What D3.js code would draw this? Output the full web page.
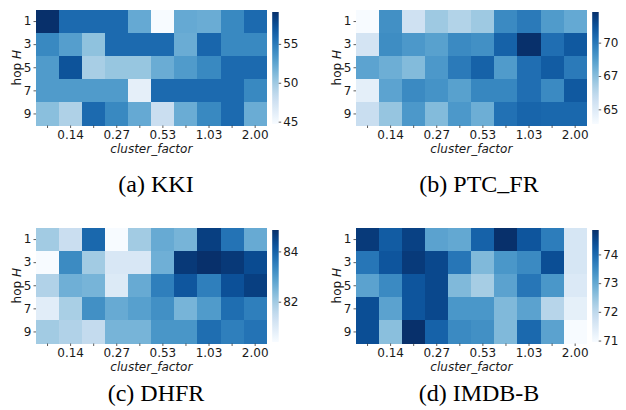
<!DOCTYPE html>
<html>
<head>
<meta charset="utf-8">
<script src="https://cdn.jsdelivr.net/npm/d3@7"></script>
<style>
  body { margin: 0; background: #fff; }
  svg { display: block; }
  .tick text { font-family: "DejaVu Sans", sans-serif; font-size: 12px; fill: #1a1a1a; }
  .tick line { stroke: #333; stroke-width: 0.8; }
</style>
</head>
<body>
<svg id="chart" width="626" height="410"></svg>
<script>
// rows = hop H, columns = cluster_factor
const hops = [1, 3, 5, 7, 9];
const factorLabels = ['', '0.14', '', '0.27', '', '0.53', '', '1.03', '', '2.00'];

const kki = [
  [59.1, 55.9, 55.9, 55.9, 52.2, 44.7, 52.2, 52.0, 54.2, 55.9],
  [54.2, 52.9, 50.6, 55.9, 55.9, 55.9, 52.0, 56.1, 54.2, 54.2],
  [53.1, 57.2, 49.6, 50.3, 50.3, 52.0, 53.1, 54.2, 55.9, 55.9],
  [53.1, 53.1, 53.1, 53.1, 46.0, 55.9, 55.9, 55.9, 55.9, 54.2],
  [50.8, 49.3, 55.9, 54.2, 52.2, 47.9, 52.0, 54.2, 55.9, 52.0]
];
const ptcFr = [
  [63.9, 69.2, 65.6, 67.0, 66.5, 67.0, 69.4, 69.9, 68.8, 68.3],
  [65.4, 69.3, 68.9, 68.6, 69.4, 69.2, 70.7, 72.3, 70.3, 71.0],
  [68.5, 68.1, 67.6, 68.9, 69.9, 70.7, 68.8, 70.3, 70.9, 69.9],
  [64.7, 68.5, 69.4, 69.1, 68.6, 69.5, 69.5, 70.3, 69.4, 71.0],
  [65.8, 67.2, 68.9, 67.6, 68.9, 68.1, 70.2, 70.6, 70.5, 70.5]
];
const dhfr = [
  [82.0, 81.4, 83.9, 80.4, 82.0, 82.7, 82.5, 84.6, 83.7, 82.7],
  [80.4, 83.3, 82.0, 81.1, 81.1, 82.6, 84.7, 84.85, 84.7, 84.4],
  [81.8, 82.6, 82.5, 81.0, 82.7, 83.5, 84.2, 83.5, 84.3, 84.6],
  [80.9, 81.9, 83.2, 82.7, 82.9, 83.2, 82.5, 83.0, 83.8, 83.5],
  [82.0, 81.8, 81.5, 82.5, 82.5, 83.1, 83.1, 83.8, 83.5, 83.7]
];
const imdbB = [
  [74.7, 74.2, 74.6, 73.1, 73.0, 74.1, 74.85, 74.3, 73.7, 71.6],
  [73.8, 74.3, 74.7, 74.5, 73.8, 72.7, 73.3, 73.5, 74.4, 71.6],
  [73.1, 73.5, 74.3, 74.5, 72.7, 72.3, 73.1, 73.8, 73.3, 71.5],
  [74.4, 73.1, 74.3, 74.5, 73.3, 73.3, 72.7, 73.1, 72.1, 71.3],
  [74.4, 72.6, 74.85, 74.1, 73.5, 73.4, 72.7, 74.0, 73.1, 70.95]
];

// colorbar ticks
const kkiTicks = [45, 50, 55];
const ptcFrTicks = [65, 67.5, 70];
const ptcFrTickLabels = ['65', '67', '70'];
const dhfrTicks = [82, 84];
const imdbBTicks = [71, 72, 73, 74];

const captions = ['(a) KKI', '(b) PTC_FR', '(c) DHFR', '(d) IMDB-B'];

const panels = [
  { data: kki, ticks: kkiTicks, labels: kkiTicks.map(String), left: 36, top: 10, capX: 156, capY: 192 },
  { data: ptcFr, ticks: ptcFrTicks, labels: ptcFrTickLabels, left: 356, top: 10, capX: 479, capY: 192 },
  { data: dhfr, ticks: dhfrTicks, labels: dhfrTicks.map(String), left: 36, top: 228, capX: 156, capY: 401 },
  { data: imdbB, ticks: imdbBTicks, labels: imdbBTicks.map(String), left: 356, top: 228, capX: 479, capY: 401 }
];

const hmWidth = 230.7;
const hmHeight = 115.5;

const svg = d3.select('#chart');
const defs = svg.append('defs');

// one shared vertical gradient for the colorbars
const grad = defs.append('linearGradient')
  .attr('id', 'blues')
  .attr('x1', 0).attr('y1', 1)
  .attr('x2', 0).attr('y2', 0);
d3.range(0, 1.0001, 0.05).forEach(t => {
  grad.append('stop')
    .attr('offset', t)
    .attr('stop-color', d3.interpolateBlues(t));
});

panels.forEach((p, i) => {
  const g = svg.append('g').attr('transform', `translate(${p.left},${p.top})`);

  const x = d3.scaleBand().domain(d3.range(factorLabels.length)).range([0, hmWidth]);
  const y = d3.scaleBand().domain(hops).range([0, hmHeight]);
  const extent = d3.extent(p.data.flat());
  const color = d3.scaleSequential(d3.interpolateBlues).domain(extent);

  // cells
  p.data.forEach((row, r) => {
    g.selectAll(null)
      .data(row)
      .enter()
      .append('rect')
      .attr('x', (d, c) => x(c))
      .attr('y', y(hops[r]))
      .attr('width', x.bandwidth() + 0.4)
      .attr('height', y.bandwidth() + 0.4)
      .attr('fill', d => color(d))
      .attr('shape-rendering', 'crispEdges');
  });

  // x axis
  const xAxis = g.append('g')
    .attr('transform', `translate(0,${hmHeight})`)
    .call(d3.axisBottom(x).tickSize(2.5).tickPadding(2).tickFormat(c => factorLabels[c]));
  xAxis.select('.domain').remove();

  // y axis
  const yAxis = g.append('g')
    .call(d3.axisLeft(y).tickSize(2.5).tickPadding(2));
  yAxis.select('.domain').remove();

  // axis titles
  g.append('text')
    .attr('x', hmWidth / 2)
    .attr('y', hmHeight + 27.5)
    .attr('text-anchor', 'middle')
    .style('font-family', '"DejaVu Sans", sans-serif')
    .style('font-size', '12px')
    .style('font-style', 'italic')
    .attr('fill', '#1a1a1a')
    .text('cluster_factor');

  const yl = g.append('text')
    .attr('transform', `translate(-15.5,${hmHeight / 2}) rotate(-90)`)
    .attr('text-anchor', 'middle')
    .style('font-family', '"DejaVu Sans", sans-serif')
    .style('font-size', '12px')
    .attr('fill', '#1a1a1a');
  yl.append('tspan').text('hop ');
  yl.append('tspan').style('font-style', 'italic').text('H');

  // colorbar
  const cbX = hmWidth + 5.5;
  const cbW = 6.5;
  const cbTop = 2;
  const cbBottom = 114;
  const cb = d3.scaleLinear().domain(extent).range([cbBottom, cbTop]);
  g.append('rect')
    .attr('x', cbX)
    .attr('y', cbTop)
    .attr('width', cbW)
    .attr('height', cbBottom - cbTop)
    .attr('fill', 'url(#blues)');
  g.append('g')
    .attr('transform', `translate(${cbX + cbW},0)`)
    .call(d3.axisRight(cb).tickValues(p.ticks).tickSize(2.5).tickPadding(2)
      .tickFormat((d, k) => p.labels[k]))
    .select('.domain').remove();

  // caption (underscore raised to the baseline like LaTeX's \_)
  const cap = svg.append('text')
    .attr('x', p.capX)
    .attr('y', p.capY)
    .attr('text-anchor', 'middle')
    .style('font-family', '"Liberation Serif", "Times New Roman", serif')
    .style('font-size', '24px')
    .attr('fill', '#000');
  const parts = captions[i].split('_');
  parts.forEach((s, k) => {
    if (k > 0) {
      cap.append('tspan').attr('dy', -2.5).text('_');
      cap.append('tspan').attr('dy', 2.5).text(s);
    } else {
      cap.append('tspan').text(s);
    }
  });
});
</script>
</body>
</html>
